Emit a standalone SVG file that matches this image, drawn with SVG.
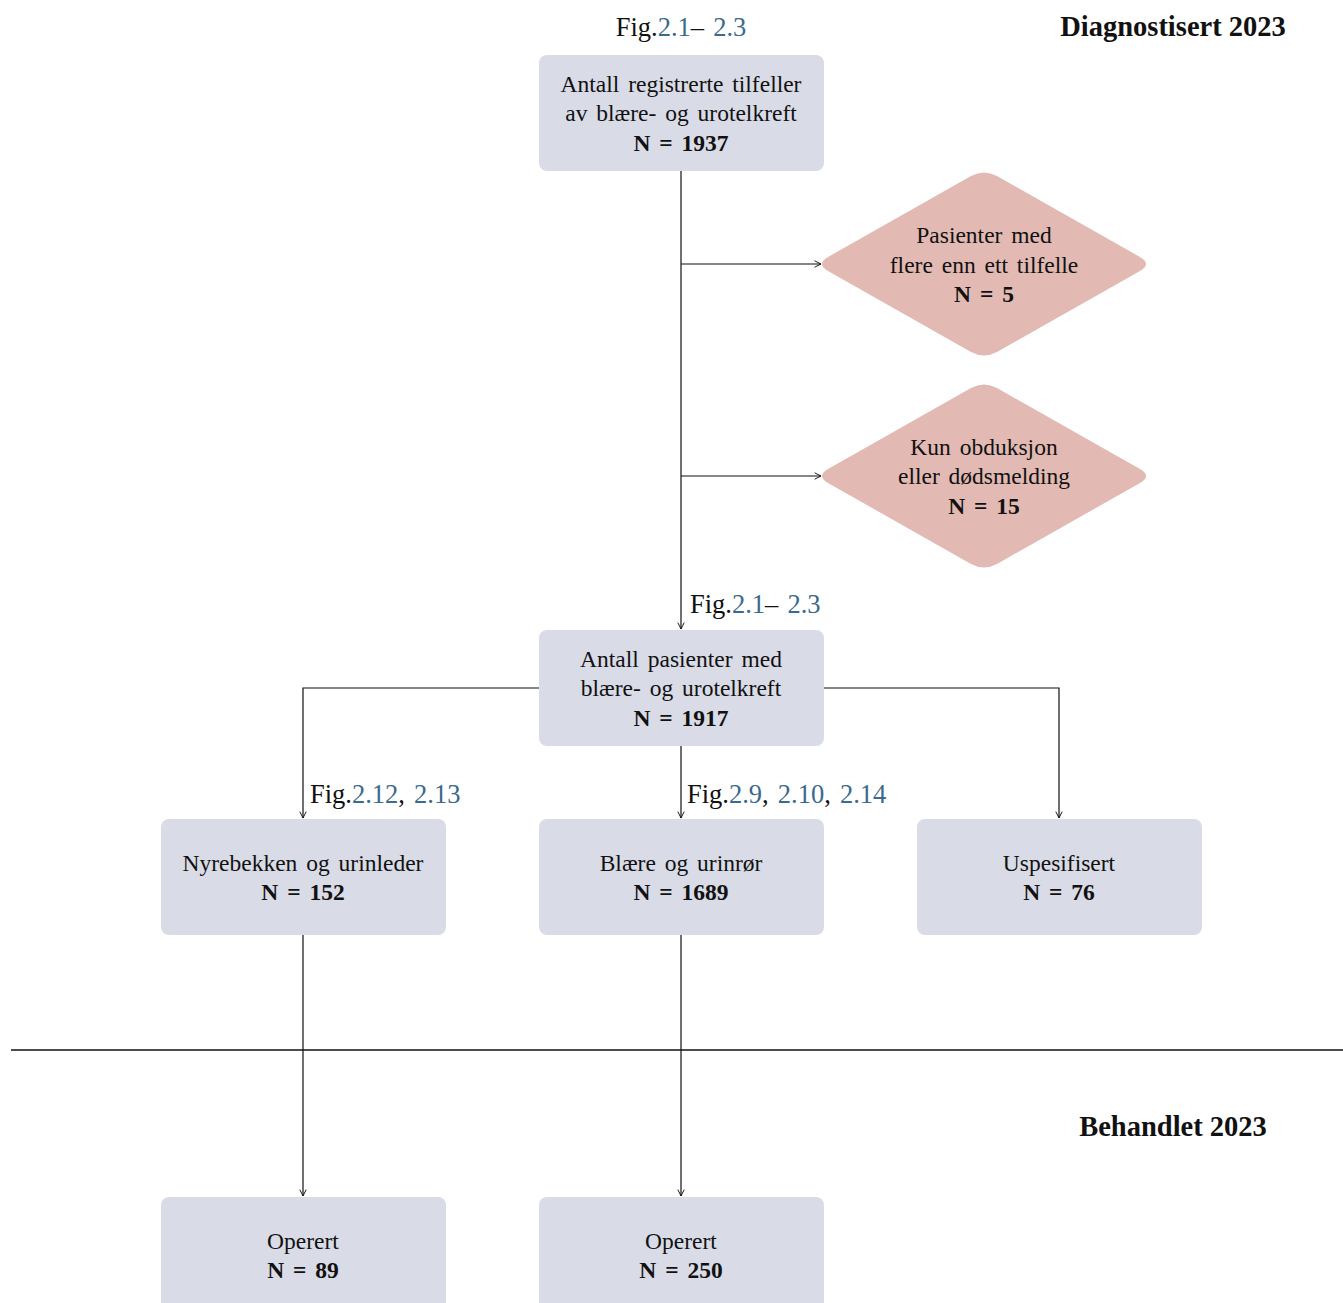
<svg xmlns="http://www.w3.org/2000/svg" width="1343" height="1303" viewBox="0 0 1343 1303">
<style>
text{font-family:"Liberation Serif","DejaVu Serif",serif;font-size:23.5px;fill:#111;word-spacing:3px;}
.c{text-anchor:middle;}
.b{font-weight:bold;}
.fig{font-size:26.5px;word-spacing:2.5px;}
.l{fill:#3b6a8c;}
.box{fill:#d9dbe7;}
.dia{fill:#e2bab3;}
.ln{stroke:#111;stroke-width:1.2;fill:none;}
.title{font-weight:bold;font-size:28.5px;word-spacing:0;}
</style>
<defs>
<marker id="ah" viewBox="0 0 10 10" refX="9" refY="5" markerWidth="8" markerHeight="8" markerUnits="userSpaceOnUse" orient="auto">
<path d="M1,1 L9,5 L1,9" fill="none" stroke="#111" stroke-width="1.2"/>
</marker>
</defs>
<text x="1173" y="36" class="c title">Diagnostisert 2023</text>
<text x="1173" y="1136" class="c title">Behandlet 2023</text>
<line x1="11" y1="1050" x2="1343" y2="1050" stroke="#111" stroke-width="1.5"/>
<g id="connectors">
<path class="ln" d="M681,171 V629" marker-end="url(#ah)"/>
<path class="ln" d="M681,264 H821" marker-end="url(#ah)"/>
<path class="ln" d="M681,476 H821" marker-end="url(#ah)"/>
<path class="ln" d="M539,688 H303 V818" marker-end="url(#ah)"/>
<path class="ln" d="M823,688 H1059 V818" marker-end="url(#ah)"/>
<path class="ln" d="M681,745 V818" marker-end="url(#ah)"/>
<path class="ln" d="M303,934 V1196" marker-end="url(#ah)"/>
<path class="ln" d="M681,934 V1196" marker-end="url(#ah)"/>
</g>
<g id="fig1"><text x="681" y="36" class="c fig">Fig.<tspan class="l">2.1</tspan>– <tspan class="l">2.3</tspan></text></g>
<g id="fig2"><text x="690" y="613" class="fig">Fig.<tspan class="l">2.1</tspan>– <tspan class="l">2.3</tspan></text></g>
<g id="fig3"><text x="310" y="803" class="fig">Fig.<tspan class="l">2.12</tspan>, <tspan class="l">2.13</tspan></text></g>
<g id="fig4"><text x="687" y="803" class="fig">Fig.<tspan class="l">2.9</tspan>, <tspan class="l">2.10</tspan>, <tspan class="l">2.14</tspan></text></g>
<g id="n1">
<rect class="box" x="539" y="55" width="285" height="116" rx="8"/>
<text x="681" y="92" class="c">Antall registrerte tilfeller</text>
<text x="681" y="121" class="c">av blære- og urotelkreft</text>
<text x="681" y="151" class="c b">N = 1937</text>
</g>
<g id="d1">
<path class="dia" d="M971,176 Q984,169 997,176 L1140,257 Q1152,264 1140,271 L997,352 Q984,359 971,352 L828,271 Q816,264 828,257 Z"/>
<text x="984" y="243" class="c">Pasienter med</text>
<text x="984" y="273" class="c">flere enn ett tilfelle</text>
<text x="984" y="302" class="c b">N = 5</text>
</g>
<g id="d2">
<path class="dia" d="M971,388 Q984,381 997,388 L1140,469 Q1152,476 1140,483 L997,564 Q984,571 971,564 L828,483 Q816,476 828,469 Z"/>
<text x="984" y="455" class="c">Kun obduksjon</text>
<text x="984" y="484" class="c">eller dødsmelding</text>
<text x="984" y="514" class="c b">N = 15</text>
</g>
<g id="n2">
<rect class="box" x="539" y="630" width="285" height="116" rx="8"/>
<text x="681" y="667" class="c">Antall pasienter med</text>
<text x="681" y="696" class="c">blære- og urotelkreft</text>
<text x="681" y="726" class="c b">N = 1917</text>
</g>
<g id="n3">
<rect class="box" x="161" y="819" width="285" height="116" rx="8"/>
<text x="303" y="871" class="c">Nyrebekken og urinleder</text>
<text x="303" y="900" class="c b">N = 152</text>
</g>
<g id="n4">
<rect class="box" x="539" y="819" width="285" height="116" rx="8"/>
<text x="681" y="871" class="c">Blære og urinrør</text>
<text x="681" y="900" class="c b">N = 1689</text>
</g>
<g id="n5">
<rect class="box" x="917" y="819" width="285" height="116" rx="8"/>
<text x="1059" y="871" class="c">Uspesifisert</text>
<text x="1059" y="900" class="c b">N = 76</text>
</g>
<g id="n6">
<rect class="box" x="161" y="1197" width="285" height="116" rx="8"/>
<text x="303" y="1249" class="c">Operert</text>
<text x="303" y="1278" class="c b">N = 89</text>
</g>
<g id="n7">
<rect class="box" x="539" y="1197" width="285" height="116" rx="8"/>
<text x="681" y="1249" class="c">Operert</text>
<text x="681" y="1278" class="c b">N = 250</text>
</g>
</svg>
